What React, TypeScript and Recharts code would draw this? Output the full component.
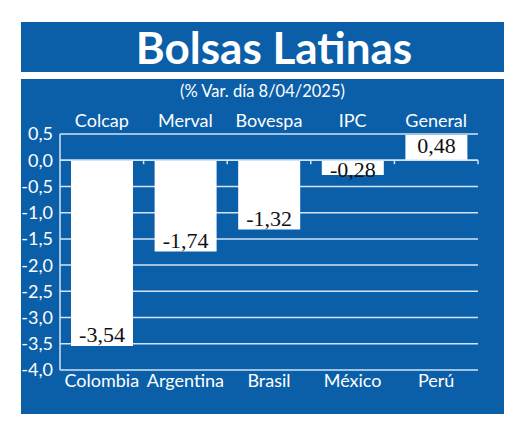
import React from 'react'
import { BarChart, Bar, XAxis, YAxis, CartesianGrid, ReferenceLine, LabelList } from 'recharts'

const paises = ['Colombia', 'Argentina', 'Brasil', 'México', 'Perú']
const indices = ['Colcap', 'Merval', 'Bovespa', 'IPC', 'General']
const variaciones = [-3.54, -1.74, -1.32, -0.28, 0.48]
const yTicks = [0.5, 0, -0.5, -1, -1.5, -2, -2.5, -3, -3.5, -4]

const data = paises.map((pais, i) => ({ pais, indice: indices[i], valor: variaciones[i] }))

const BLUE = '#0b5ea8'
const GRID = '#d3e5f5'
const SANS = 'Lato, "Open Sans", sans-serif'

const fmt = (v: number, d: number) => v.toFixed(d).replace('.', ',')

const BarLabel = (props: any) => {
  const { x, y, width, height, value } = props
  const top = Math.min(y, y + height)
  const bottom = Math.max(y, y + height)
  const off = Math.min(11, Math.abs(height) * 0.4)
  const cy = value < 0 ? bottom - off : top + off
  return (
    <text
      x={x + width / 2}
      y={cy}
      textAnchor="middle"
      dominantBaseline="central"
      fill="#111"
      fontFamily='"Liberation Serif", serif'
      fontSize={22}
    >
      {fmt(value, 2)}
    </text>
  )
}

// zero line with little tick marks between categories
const ZeroLine = (props: any) => {
  const { x1, x2, y1 } = props
  const n = data.length
  const step = (x2 - x1) / n
  const marks = []
  for (let i = 1; i <= n; i++) {
    const x = x1 + step * i
    marks.push(<line key={i} x1={x} x2={x} y1={y1} y2={y1 + 4} stroke={GRID} strokeWidth={1.5} />)
  }
  return (
    <g>
      <line x1={x1} x2={x2} y1={y1} y2={y1} stroke={GRID} strokeWidth={1.5} />
      {marks}
    </g>
  )
}

export default function App() {
  return (
    <div style={{ position: 'absolute', left: 0, top: 0, width: 520, height: 430, background: '#fff' }}>
      <div style={{ position: 'absolute', left: 21, top: 22, width: 483, height: 50, background: BLUE }} />
      <div style={{ position: 'absolute', left: 21, top: 79, width: 483, height: 335, background: BLUE }} />
      <div
        style={{
          position: 'absolute', left: 21, top: 19, width: 506, textAlign: 'center',
          color: '#fff', fontFamily: SANS, fontWeight: 700, fontSize: 44, lineHeight: '56px',
        }}
      >
        Bolsas Latinas
      </div>
      <div
        style={{
          position: 'absolute', left: 21, top: 80, width: 483, textAlign: 'center',
          color: '#fff', fontFamily: SANS, fontSize: 16.5, lineHeight: '22px',
        }}
      >
        (% Var. día 8/04/2025)
      </div>
      <div style={{ position: 'absolute', left: 0, top: 0 }}>
        <BarChart
          width={520}
          height={430}
          data={data}
          margin={{ top: 104, right: 42, left: 20, bottom: 30 }}
        >
          <CartesianGrid horizontal vertical={false} stroke={GRID} strokeWidth={1.5} />
          <XAxis
            dataKey="pais"
            axisLine={false}
            tickLine={false}
            tickSize={0}
            tickMargin={4}
            height={30}
            interval={0}
            tick={{ fill: '#fff', fontSize: 18, fontFamily: SANS }}
          />
          <XAxis
            xAxisId="top"
            orientation="top"
            dataKey="indice"
            axisLine={false}
            tickLine={false}
            tickSize={0}
            tickMargin={7}
            height={30}
            interval={0}
            tick={{ fill: '#fff', fontSize: 18, fontFamily: SANS }}
          />
          <YAxis
            domain={[-4, 0.5]}
            ticks={yTicks}
            interval={0}
            width={40}
            axisLine={{ stroke: GRID, strokeWidth: 1.5 }}
            tickLine={false}
            tickSize={0}
            tickMargin={7}
            tickFormatter={(v: number) => fmt(v, 1)}
            tick={{ fill: '#fff', fontSize: 18, fontFamily: SANS }}
          />
          <Bar dataKey="valor" fill="#fff" barSize={62} isAnimationActive={false}>
            <LabelList dataKey="valor" content={<BarLabel />} />
          </Bar>
          <ReferenceLine y={0} shape={<ZeroLine />} />
        </BarChart>
      </div>
    </div>
  )
}
